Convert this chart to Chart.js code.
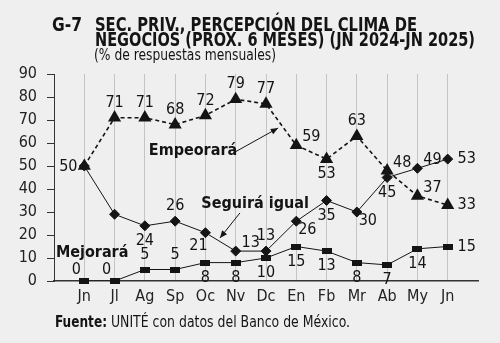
<!DOCTYPE html>
<html>
<head>
<meta charset="utf-8">
<script src="https://cdn.jsdelivr.net/npm/chart.js@4.4.1/dist/chart.umd.min.js"></script>
<style>
  html, body { margin: 0; padding: 0; background: #efefef; }
  #wrap { width: 500px; height: 343px; }
</style>
</head>
<body>
<div id="wrap"><canvas id="grafica" width="500" height="343"></canvas></div>
<script>
// Meses (jun 2024 - jun 2025)
const meses = ['Jn', 'Jl', 'Ag', 'Sp', 'Oc', 'Nv', 'Dc', 'En', 'Fb', 'Mr', 'Ab', 'My', 'Jn'];
// Porcentaje de respuestas
const empeorara = [50, 71, 71, 68, 72, 79, 77, 59, 53, 63, 48, 37, 33];
const seguiraIgual = [50, 29, 24, 26, 21, 13, 13, 26, 35, 30, 45, 49, 53];
const mejorara = [0, 0, 5, 5, 8, 8, 10, 15, 13, 8, 7, 14, 15];

// Donde va cada etiqueta respecto a su punto (null = sin etiqueta)
const posEmpeorara = ['l', 't', 't', 't', 't', 't', 't', 'tr', 'b', 't', 'tr', 'tr', 'r'];
const posSeguira = [null, null, 'b', 't', 'bl', 'tr', 't', 'br', 'b', 'br', 'b', 'tr', 'r'];
const posMejorara = ['tl', 'tl', 't', 't', 'b', 'b', 'b', 'b', 'b', 'b', 'b', 'b', 'r'];

const FAM = "'Liberation Sans Narrow', 'DejaVu Sans Condensed', 'Roboto', sans-serif";
const NEGRO = '#141414';

const desplaza = {
  t: [0, -15], b: [0, 15], l: [-16, 1], r: [19, 0],
  tr: [15, -8], tl: [-8, -11], br: [11, 9], bl: [-7, 13],
};

function aPuntos(valores) {
  return valores.map((v, i) => ({ x: i, y: v }));
}

// Texto ajustado a un ancho dado (comprime en horizontal)
function textoAjustado(ctx, texto, x, y, font, ancho) {
  ctx.save();
  ctx.font = font;
  const w = ctx.measureText(texto).width;
  const k = ancho && w > 0 ? ancho / w : 1;
  ctx.translate(x, y);
  ctx.scale(k, 1);
  ctx.fillText(texto, 0, 0);
  ctx.restore();
  return w * k;
}

function flecha(ctx, x1, y1, x2, y2) {
  const ang = Math.atan2(y2 - y1, x2 - x1);
  ctx.beginPath();
  ctx.moveTo(x1, y1);
  ctx.lineTo(x2, y2);
  ctx.stroke();
  ctx.beginPath();
  ctx.moveTo(x2, y2);
  ctx.lineTo(x2 - 8 * Math.cos(ang - 0.4), y2 - 8 * Math.sin(ang - 0.4));
  ctx.lineTo(x2 - 8 * Math.cos(ang + 0.4), y2 - 8 * Math.sin(ang + 0.4));
  ctx.closePath();
  ctx.fill();
}

// Marcadores rectangulares de "Mejorará" sobre los puntos de la serie
const rectangulos = {
  id: 'rectangulos',
  afterDatasetsDraw(chart) {
    const { ctx } = chart;
    const meta = chart.getDatasetMeta(2);
    ctx.save();
    ctx.fillStyle = NEGRO;
    meta.data.forEach((p) => {
      ctx.fillRect(Math.round(p.x) - 5, Math.round(p.y) - 3, 10, 6);
    });
    ctx.restore();
  },
};

// Titulo, fuente, etiquetas de valores y anotaciones
const decoracion = {
  id: 'decoracion',
  afterDraw(chart) {
    const { ctx, scales } = chart;
    const px = (v) => scales.x.getPixelForValue(v);
    const py = (v) => scales.y.getPixelForValue(v);

    ctx.save();
    ctx.fillStyle = NEGRO;
    ctx.textBaseline = 'alphabetic';
    ctx.textAlign = 'left';
    textoAjustado(ctx, 'G-7', 52, 31, 'bold 19px ' + FAM, 30);
    textoAjustado(ctx, 'SEC. PRIV., PERCEPCIÓN DEL CLIMA DE', 95, 31, 'bold 19px ' + FAM, 322);
    textoAjustado(ctx, 'NEGOCIOS (PRÓX. 6 MESES) (JN 2024-JN 2025)', 95, 46, 'bold 19px ' + FAM, 380);
    textoAjustado(ctx, '(% de respuestas mensuales)', 94, 60, '15px ' + FAM, 182);

    const w = textoAjustado(ctx, 'Fuente:', 55, 327, 'bold 15px ' + FAM, 52);
    textoAjustado(ctx, ' UNITÉ con datos del Banco de México.', 55 + w, 327, '15px ' + FAM, 243);

    // Valores de cada serie
    ctx.textAlign = 'center';
    ctx.textBaseline = 'middle';
    ctx.font = '16px ' + FAM;
    const series = [[empeorara, posEmpeorara], [seguiraIgual, posSeguira], [mejorara, posMejorara]];
    series.forEach(([valores, pos]) => {
      valores.forEach((v, i) => {
        if (!pos[i]) return;
        const [dx, dy] = desplaza[pos[i]];
        ctx.fillText(String(v), px(i) + dx, py(v) + dy);
      });
    });

    // Nombres de las series
    ctx.font = 'bold 16px ' + FAM;
    ctx.fillText('Empeorará', px(3.59), py(56.5));
    ctx.fillText('Seguirá igual', px(5.64), py(33.5));
    ctx.fillText('Mejorará', px(0.26), py(12.2));

    ctx.strokeStyle = NEGRO;
    ctx.lineWidth = 1;
    flecha(ctx, px(4.98), py(56.1), px(6.4), py(66.5));
    flecha(ctx, px(5.14), py(29.6), px(4.48), py(18.7));
    ctx.restore();
  },
};

new Chart(document.getElementById('grafica'), {
  type: 'line',
  data: {
    datasets: [
      {
        label: 'Empeorará',
        data: aPuntos(empeorara),
        borderColor: NEGRO,
        backgroundColor: NEGRO,
        borderWidth: 1.6,
        borderDash: [4, 3],
        pointStyle: 'triangle',
        pointRadius: 6,
      },
      {
        label: 'Seguirá igual',
        data: aPuntos(seguiraIgual),
        borderColor: NEGRO,
        backgroundColor: NEGRO,
        borderWidth: 1,
        pointStyle: 'rectRot',
        pointRadius: 5,
      },
      {
        label: 'Mejorará',
        data: aPuntos(mejorara),
        borderColor: NEGRO,
        backgroundColor: NEGRO,
        borderWidth: 1,
        pointRadius: 0,
      },
    ],
  },
  options: {
    responsive: false,
    animation: false,
    events: [],
    layout: { padding: { top: 74, right: 22, bottom: 32, left: 0 } },
    plugins: {
      legend: { display: false },
      tooltip: { enabled: false },
    },
    scales: {
      x: {
        type: 'linear',
        min: -1,
        max: 13,
        afterFit: (s) => { s.height = 30; },
        ticks: {
          stepSize: 1,
          autoSkip: false,
          maxRotation: 0,
          padding: 6,
          color: '#222',
          font: { family: FAM, size: 16 },
          callback: (v) => meses[v] ?? '',
        },
        grid: {
          // sin linea en los extremos vacios
          color: (c) => (c.tick && c.tick.value >= 0 && c.tick.value <= 12 ? '#c4c4c4' : 'rgba(0,0,0,0)'),
          drawTicks: false,
        },
        border: { color: '#333', width: 1.5 },
      },
      y: {
        min: 0,
        max: 90,
        afterFit: (s) => { s.width = 54; },
        ticks: {
          stepSize: 10,
          padding: 10,
          color: '#222',
          font: { family: FAM, size: 16 },
        },
        grid: { drawOnChartArea: false, tickLength: 7, color: '#333' },
        border: { color: '#333', width: 1 },
      },
    },
  },
  plugins: [rectangulos, decoracion],
});
</script>
</body>
</html>
